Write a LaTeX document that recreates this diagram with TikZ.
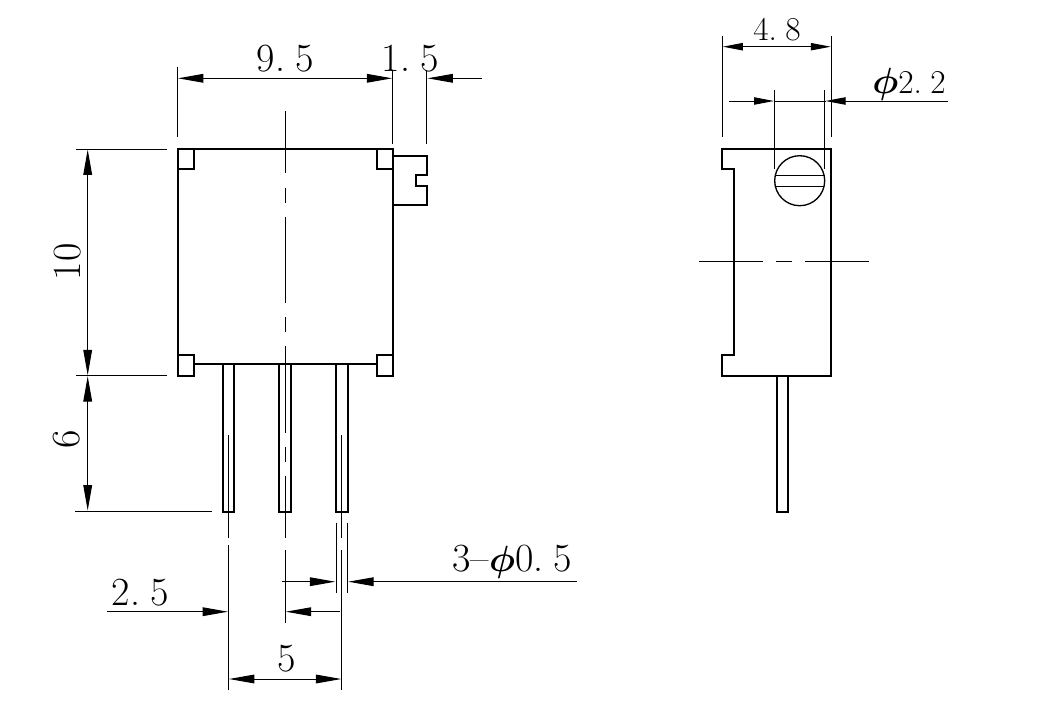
\documentclass[tikz,border=0pt]{standalone}
\usepackage{amsmath,amssymb}
\usepackage{graphicx}
\usepackage{xcolor}
\usetikzlibrary{arrows.meta}
\newcommand{\dimdot}{.\kern.25em}
\newcommand{\diam}{\scalebox{1.1}{$\boldsymbol{\phi}$}}
\tikzset{
    outline/.style={line width=1.5pt, line join=miter},
    thinline/.style={line width=0.75pt},
    dimline/.style={thinline, {Triangle[length=19pt,width=6.5pt]}-{Triangle[length=19pt,width=6.5pt]}},
    dimright/.style={thinline, -{Triangle[length=19pt,width=6.5pt]}},
    dimsmall/.style={thinline, {Triangle[length=15pt,width=5.5pt]}-{Triangle[length=15pt,width=5.5pt]}},
    dimsmallright/.style={thinline, -{Triangle[length=15pt,width=5.5pt]}},
    biglabel/.style={font=\fontsize{30}{30}\selectfont, inner sep=0pt},
    smalllabel/.style={font=\fontsize{25}{25}\selectfont, inner sep=0pt}
}
\begin{document}
\begin{tikzpicture}[x=0.75pt,y=-0.75pt]
    \useasboundingbox (0,0) rectangle (1051,704);

    % Front view body
    \draw[outline] (177.5,148.5) rectangle (392.7,375.5);
    \draw[outline, fill=white] (177.5,148.5) rectangle (193.5,169.3);
    \draw[outline, fill=white] (376.7,148.5) rectangle (392.7,169.3);
    \fill[white] (178.5,365) rectangle (391.7,376.5);
    \draw[outline] (177.5,355) rectangle (193.5,375.5);
    \draw[outline] (376.7,355) rectangle (392.7,375.5);
    \draw[outline] (193.5,364) -- (376.7,364);

    % Adjuster
    \draw[outline] (392.7,155.7) -- (426.7,155.7) -- (426.7,175.3) -- (415.7,175.3)
        -- (415.7,185.7) -- (426.7,185.7) -- (426.7,205.3) -- (392.7,205.3);

    % Pins
    \foreach \pinx in {222.7,279.3,336.2}
        \draw[outline] (\pinx,364) -- (\pinx,511.7) -- ++(11.7,0) -- ++(0,-147.7);

    % Centre lines
    \draw[thinline] (285,111) -- (285,173.3) (285,188.3) -- (285,202.7)
        (285,216.7) -- (285,303.3) (285,317.3) -- (285,332.3)
        (285,346) -- (285,432.7) (285,446.7) -- (285,461.7)
        (285,476) -- (285,538.3) (285,550) -- (285,623.3);
    \draw[thinline] (228.5,435) -- (228.5,538) (228.5,545) -- (228.5,690);
    \draw[thinline] (341.8,435) -- (341.8,538) (341.8,550) -- (341.8,690);

    % Extension lines
    \draw[thinline] (177.5,66.7) -- (177.5,137.3);
    \draw[thinline] (392.7,70) -- (392.7,144);
    \draw[thinline] (426.7,70) -- (426.7,144);
    \draw[thinline] (76,149) -- (166.7,149);
    \draw[thinline] (76,375.7) -- (166.7,375.7);
    \draw[thinline] (75,511) -- (211.7,511);
    \draw[thinline] (336,522.7) -- (336,593.3);
    \draw[thinline] (347.3,522.7) -- (347.3,593.3);

    % Dimensions of the front view
    \draw[dimline] (178,78.3) -- (392.2,78.3);
    \draw[dimright] (481.7,78.3) -- (427.5,78.3);
    \draw[dimline] (87.7,149.5) -- (87.7,375.2);
    \draw[dimline] (87.7,376.2) -- (87.7,510.5);
    \draw[dimright] (281.7,581.7) -- (335.2,581.7);
    \draw[dimright] (576.7,581.7) -- (348.2,581.7);
    \draw[dimright] (106.7,611.7) -- (228,611.7);
    \draw[dimright] (340,611.7) -- (285.8,611.7);
    \draw[dimline] (229,679) -- (341.3,679);

    % Front view labels
    \node[biglabel] (pitchw) at (285,59) {9\dimdot 5};
    \node[biglabel] (knobw) at (410,59) {1\dimdot 5};
    \node[biglabel, rotate=90] (bodyh) at (67.7,261.7) {10};
    \node[biglabel, rotate=90] (pinh) at (66.7,439) {6};
    \node[biglabel] (halfp) at (140,592.7) {2\dimdot 5};
    \node[biglabel] (fullp) at (286.7,659) {5};
    \node[biglabel] (pind) at (512,562) {3\textendash\diam 0\dimdot 5};

    % Side view body
    \draw[outline] (722.3,148.7) -- (831.3,148.7) -- (831.3,375.7) -- (722.3,375.7)
        -- (722.3,355) -- (733.7,355) -- (733.7,169.3) -- (722.3,169.3) -- cycle;

    % Screw
    \draw[thinline, line width=1pt] (799.7,180.7) circle (25);
    \draw[thinline] (775.5,175) -- (823.9,175) (775.5,186) -- (823.9,186);

    % Side pin
    \draw[outline] (777,375.7) -- (777,511.7) -- (788.3,511.7) -- (788.3,375.7);

    % Side centre line
    \draw[thinline] (699,261.7) -- (762.7,261.7) (776,261.7) -- (791.7,261.7) (805.3,261.7) -- (869,261.7);

    % Side extension lines
    \draw[thinline] (722.3,36) -- (722.3,137.3);
    \draw[thinline] (831.3,36) -- (831.3,137.3);
    \draw[thinline] (774.7,90) -- (774.7,169.3);
    \draw[thinline] (824.3,90) -- (824.3,169.3);

    % Side dimensions
    \draw[dimsmall] (722.8,46.7) -- (830.8,46.7);
    \draw[dimsmallright] (729.3,101) -- (774,101);
    \draw[dimsmallright] (948.3,101) -- (825.5,101);
    \draw[thinline] (774,101) -- (825.5,101);

    % Side labels
    \node[smalllabel] (sidew) at (777,30) {4\dimdot 8};
    \node[smalllabel] (screwd) at (909,84) {\diam 2\dimdot 2};
\end{tikzpicture}
\end{document}
